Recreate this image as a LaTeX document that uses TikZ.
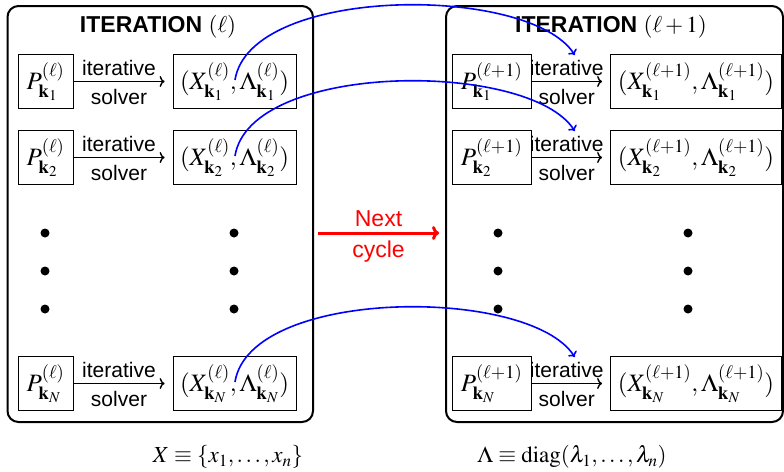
\documentclass[tikz,border=0pt]{standalone}
\usepackage{mathptmx}
\usepackage[no-math]{fontspec}
\setmainfont{Liberation Sans}
\usetikzlibrary{calc,arrows.meta}
\newcommand{\txtsize}{\fontsize{21}{24}\selectfont}
\newcommand{\mthsize}{\fontsize{25}{29}\selectfont}
\begin{document}
\begin{tikzpicture}[x=1pt,y=-1pt,
  outer/.style={draw, line width=2pt, rounded corners=11pt},
  cell/.style={draw, line width=0.8pt, minimum height=54pt, inner sep=0pt, font=\mthsize},
  solve/.style={line width=1.4pt, -{To[length=5pt,width=11pt]}},
  lbl/.style={font=\txtsize, inner sep=1pt},
  dot/.style={circle, fill, inner sep=0pt, minimum size=9pt},
  link/.style={draw=blue, line width=1.6pt, -{To[length=5pt,width=10pt]}},
  nxt/.style={draw=red, line width=3pt, -{To[length=7pt,width=14pt]}}]
\useasboundingbox (0,0) rectangle (784,471);

% outer frames
\draw[outer] (7.5,6) rectangle (313,422);
\draw[outer] (446,6) rectangle (783,422);

\node[font=\fontsize{23}{26}\selectfont] (tl) at (158,27) {\bfseries ITERATION \mdseries$(\ell)$};
\node[font=\fontsize{23}{26}\selectfont] (tr) at (611,27) {\bfseries ITERATION \mdseries$(\ell+1)$};

% rows
\foreach \r/\y/\k in {1/81.5/\mathbf{k}_1, 2/157.5/\mathbf{k}_2, 3/383.5/\mathbf{k}_N}{
  \node[cell, minimum width=55pt] (pl\r) at (45.5,\y) {$P^{(\ell)}_{\k}$};
  \node[cell, minimum width=123pt] (xl\r) at (234.5,\y) {$(X^{(\ell)}_{\k},\Lambda^{(\ell)}_{\k})$};
  \draw[solve] (pl\r.east) -- node[lbl, above=4pt] {iterative} node[lbl, below=6pt] {solver} ($(xl\r.west)+(-8,0)$);
  \node[cell, minimum width=79pt] (pr\r) at (491.5,\y) {$P^{(\ell+1)}_{\k}$};
  \node[cell, minimum width=171pt] (xr\r) at (696,\y) {$(X^{(\ell+1)}_{\k},\Lambda^{(\ell+1)}_{\k})$};
  \draw[solve] (pr\r.east) -- node[lbl, above=4pt] {iterative} node[lbl, below=6pt] {solver} ($(xr\r.west)+(-8,0)$);
  \coordinate (s\r) at ($(xl\r.center)+(0.5,-1.5)$);
  \coordinate (e\r) at ($(pr\r.north east)!0.5!(xr\r.north west)+(4,1)$);
  \draw[link] (s\r) .. controls +(15,-95) and +(-45,-71) .. (e\r);
}

% dots
\foreach \i/\y in {1/233, 2/271, 3/309}{
  \node[dot] (da\i) at (45,\y) {};
  \node[dot] (db\i) at (234,\y) {};
  \node[dot] (dc\i) at (498,\y) {};
  \node[dot] (dd\i) at (688,\y) {};
}

% next cycle
\coordinate (na) at (318,233);
\coordinate (nb) at (439,233);
\draw[nxt] (na) -- node[lbl, text=red, font=\fontsize{23}{26}\selectfont, above=4pt] {Next}
  node[lbl, text=red, font=\fontsize{23}{26}\selectfont, below=5pt] {cycle} (nb);

% definitions
\node[font=\fontsize{23}{27}\selectfont] (defx) at (228,457) {$X\equiv\{x_1,\ldots,x_n\}$};
\node[font=\fontsize{23}{27}\selectfont] (defl) at (572,457) {$\Lambda\equiv\mathrm{diag}(\lambda_1,\ldots,\lambda_n)$};
\end{tikzpicture}
\end{document}
